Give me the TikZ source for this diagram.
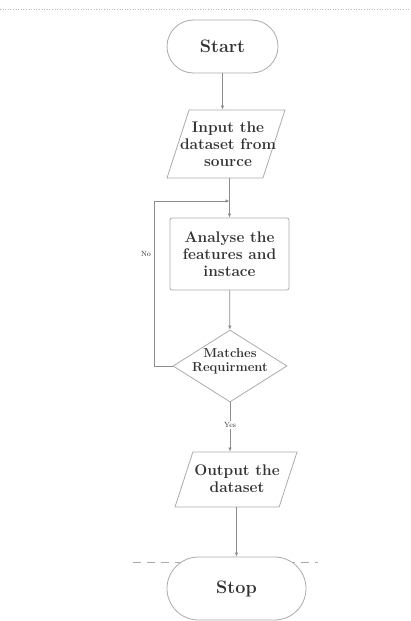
\documentclass[tikz,border=0pt]{standalone}
\usetikzlibrary{shapes.geometric,shapes.misc,arrows.meta}
\definecolor{edge}{HTML}{8C8C8C}
\definecolor{rim}{HTML}{ABABAB}
\definecolor{ink}{HTML}{333333}
\tikzset{
  term/.style={rounded rectangle,draw=rim,fill=white,line width=0.8pt,inner sep=0pt},
  io/.style={trapezium,trapezium left angle=72,trapezium right angle=108,
    trapezium stretches body,draw=rim,line width=0.8pt,inner xsep=0pt},
  proc/.style={rectangle,rounded corners=2pt,draw=rim,line width=0.8pt,inner sep=0pt},
  decision/.style={diamond,draw=rim,line width=0.8pt,inner sep=0pt},
  txt/.style={text=ink,align=center,inner sep=0pt,
    font=\bfseries\fontsize{15.4}{17}\selectfont},
  lab/.style={text=ink,inner sep=1pt,font=\fontsize{7.5}{8}\selectfont},
  link/.style={draw=edge,line width=0.7pt},
  arr/.style={link,-{Latex[length=4pt,width=3.5pt]}}
}
\begin{document}
\begin{tikzpicture}[x=1pt,y=-1pt]
\useasboundingbox (0,0) rectangle (410,621);
\draw [edge!60, dotted, line width=0.6pt] (0,9) -- (410,9);
\draw [rim, dash pattern=on 8pt off 6pt, line width=0.7pt] (133,562) -- (318,562);
\node [term, minimum width=111, minimum height=53] (start) at (222.5,46.5) {};
\node [txt, font=\bfseries\fontsize{18}{20}\selectfont] (start-t) at (start) {Start};
\node [io, inner ysep=34pt, minimum width=118] (input) at (226,144) {};
\node [txt] (input-t) at (228,144) {Input the\\dataset from\\source};
\node [proc, minimum width=119, minimum height=72] (analyse) at (229.5,254) {};
\node [txt] (analyse-t) at (analyse) {Analyse the\\features and\\instace};
\node [decision, minimum width=114, minimum height=72] (match) at (230,366) {};
\node [txt, font=\bfseries\fontsize{13}{14}\selectfont] (match-t) at (230,361) {Matches\\Requirment};
\node [io, inner ysep=27.5pt, minimum width=122] (output) at (236,479.5) {};
\node [txt] (output-t) at (237,479) {Output the\\dataset};
\node [term, minimum width=139, minimum height=63] (stop) at (236.5,588.5) {};
\node [txt, font=\bfseries\fontsize{18}{20}\selectfont] (stop-t) at (stop) {Stop};
\coordinate (join) at (229.5,201);
\draw [arr] (start) -- (start |- input.north);
\draw [arr] (input.south -| analyse.north) -- (analyse);
\draw [arr] (analyse) -- (match);
\draw [arr] (match.west) -- ++(-18,0) |- (join);
\node [lab] (no) at (146,254) {No};
\draw [arr] (match) -- (match |- output.north);
\node [lab, fill=white] (yes) at (230,425) {Yes};
\draw [arr] (output.south -| stop.north) -- (stop);
\end{tikzpicture}
\end{document}
